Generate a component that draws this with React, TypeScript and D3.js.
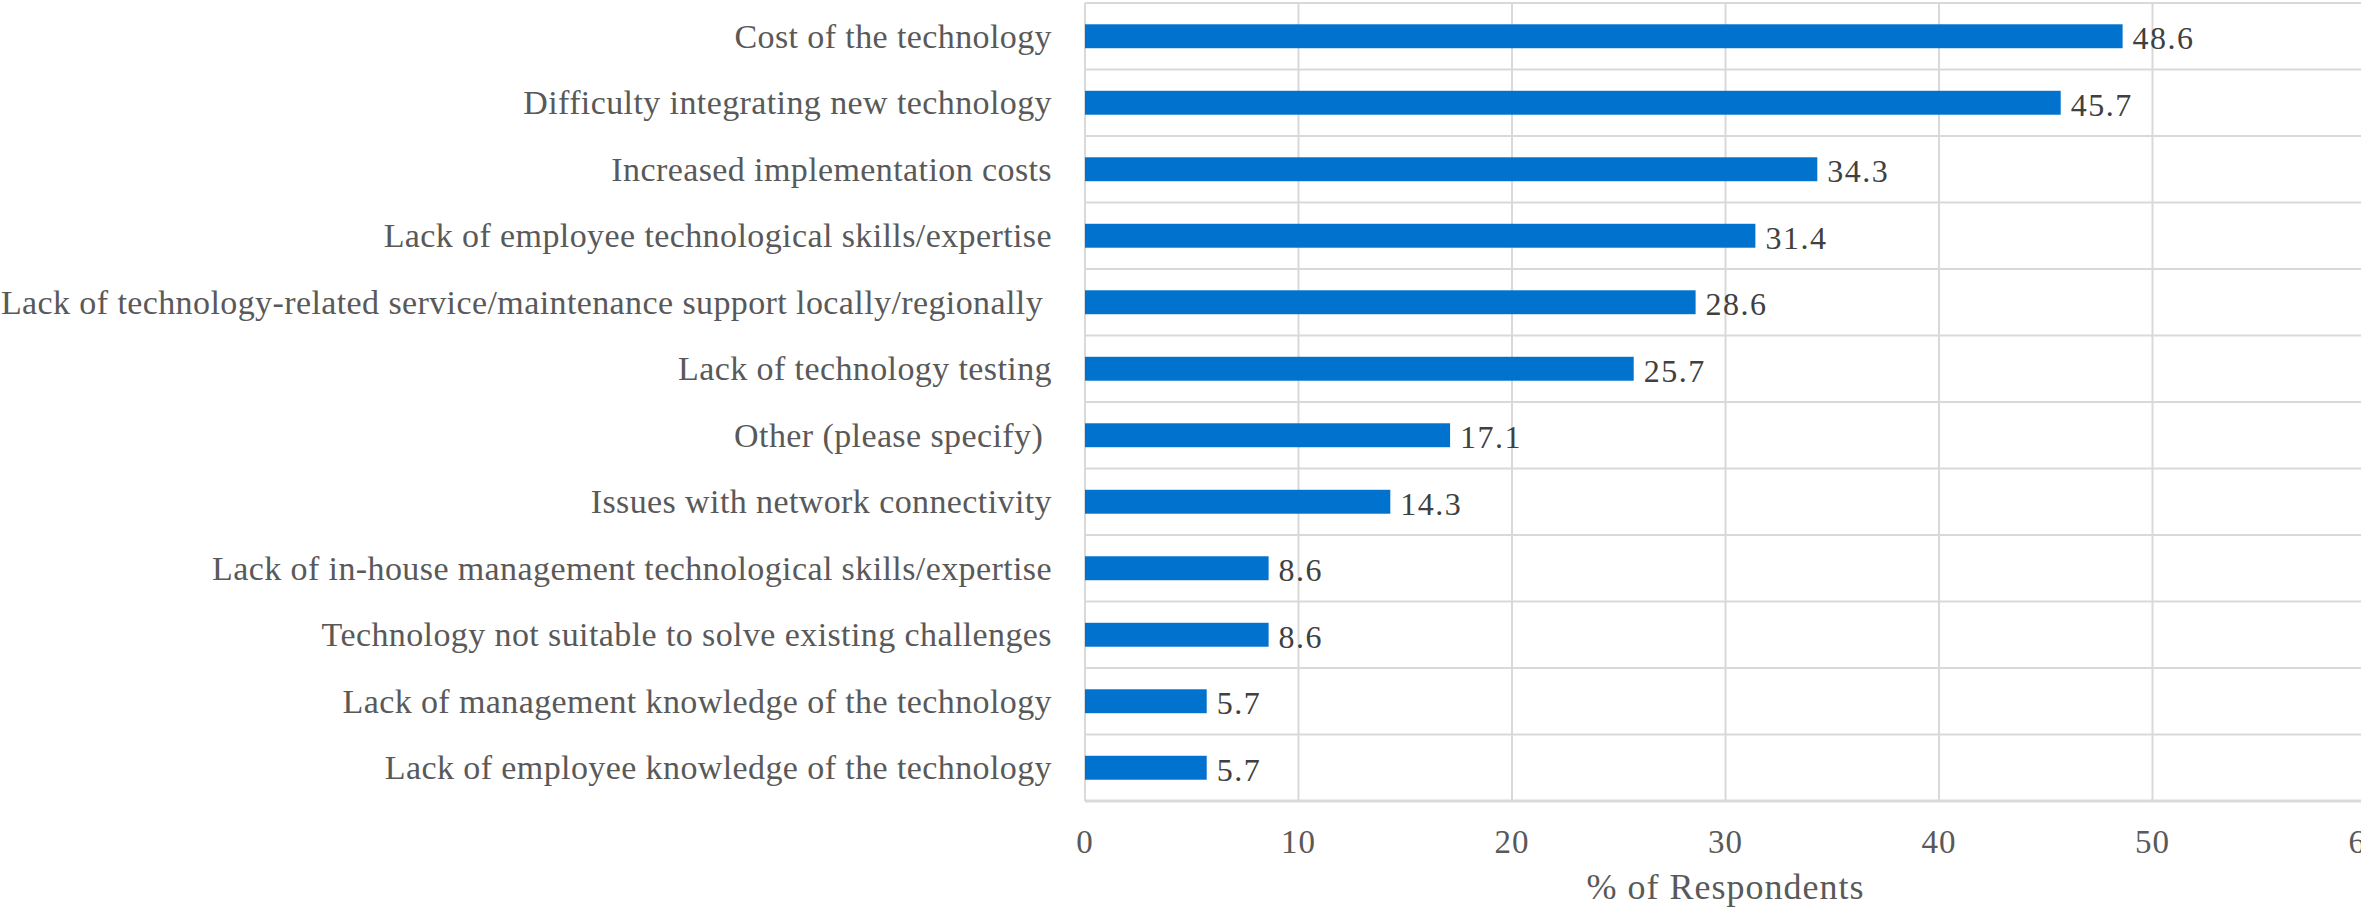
import React from 'react';
import * as d3 from 'd3';

const categories = [
  'Cost of the technology',
  'Difficulty integrating new technology',
  'Increased implementation costs',
  'Lack of employee technological skills/expertise',
  'Lack of technology-related service/maintenance support locally/regionally ',
  'Lack of technology testing',
  'Other (please specify) ',
  'Issues with network connectivity',
  'Lack of in-house management technological skills/expertise',
  'Technology not suitable to solve existing challenges',
  'Lack of management knowledge of the technology',
  'Lack of employee knowledge of the technology',
];
const values = [48.6, 45.7, 34.3, 31.4, 28.6, 25.7, 17.1, 14.3, 8.6, 8.6, 5.7, 5.7];
const xTicks = [0, 10, 20, 30, 40, 50, 60];
const xTitle = '% of Respondents';

const W = 2361;
const H = 908;
const FONT = '"Liberation Serif", "Times New Roman", serif';

const App = () => {
  const left = 1085;
  const top = 3;
  const bottom = 801;

  const x = d3.scaleLinear().domain([0, 60]).range([left, left + 6 * 213.5]);
  const y = d3.scaleBand<string>()
    .domain(categories)
    .range([top, bottom])
    .paddingInner(0.64)
    .paddingOuter(0.32);

  const step = y.step();
  const bandLines = d3.range(categories.length + 1).map(i => top + i * step);

  return (
    <svg width={W} height={H} style={{ position: 'absolute', left: 0, top: 0, background: '#fff' }}>
      {/* vertical grid */}
      {xTicks.map(t => (
        <line key={'v' + t} x1={x(t)} x2={x(t)} y1={top} y2={bottom} stroke="#d9d9d9" strokeWidth={2} />
      ))}
      {/* category separators */}
      {bandLines.map((yy, i) => (
        <line key={'h' + i} x1={left} x2={W} y1={yy} y2={yy} stroke="#d9d9d9"
          strokeWidth={i === categories.length ? 3 : 2} />
      ))}
      {/* bars */}
      {categories.map((c, i) => (
        <rect key={c} x={x(0)} y={y(c)} width={x(values[i]) - x(0)} height={y.bandwidth()} fill="#0173ce" />
      ))}
      {/* value labels */}
      {categories.map((c, i) => (
        <text key={'l' + c} x={x(values[i]) + 10} y={(y(c) ?? 0) + y.bandwidth() / 2 + 2}
          dominantBaseline="central" fontFamily={FONT} fontSize={32} letterSpacing={1.5} fill="#404040">
          {values[i].toFixed(1)}
        </text>
      ))}
      {/* category labels */}
      {categories.map(c => (
        <text key={'c' + c} x={1052} y={(y(c) ?? 0) + y.bandwidth() / 2} textAnchor="end"
          dominantBaseline="central" fontFamily={FONT} fontSize={34} letterSpacing={0.4} fill="#595959"
          style={{ whiteSpace: 'pre' }}>
          {c}
        </text>
      ))}
      {/* x tick labels */}
      {xTicks.map(t => (
        <text key={'t' + t} x={x(t)} y={842} textAnchor="middle" dominantBaseline="central"
          fontFamily={FONT} fontSize={33} letterSpacing={1} fill="#595959">
          {t}
        </text>
      ))}
      <text x={(x(0) + x(60)) / 2} y={887} textAnchor="middle" dominantBaseline="central"
        fontFamily={FONT} fontSize={36} letterSpacing={1} fill="#595959">
        {xTitle}
      </text>
    </svg>
  );
};

export default App;
